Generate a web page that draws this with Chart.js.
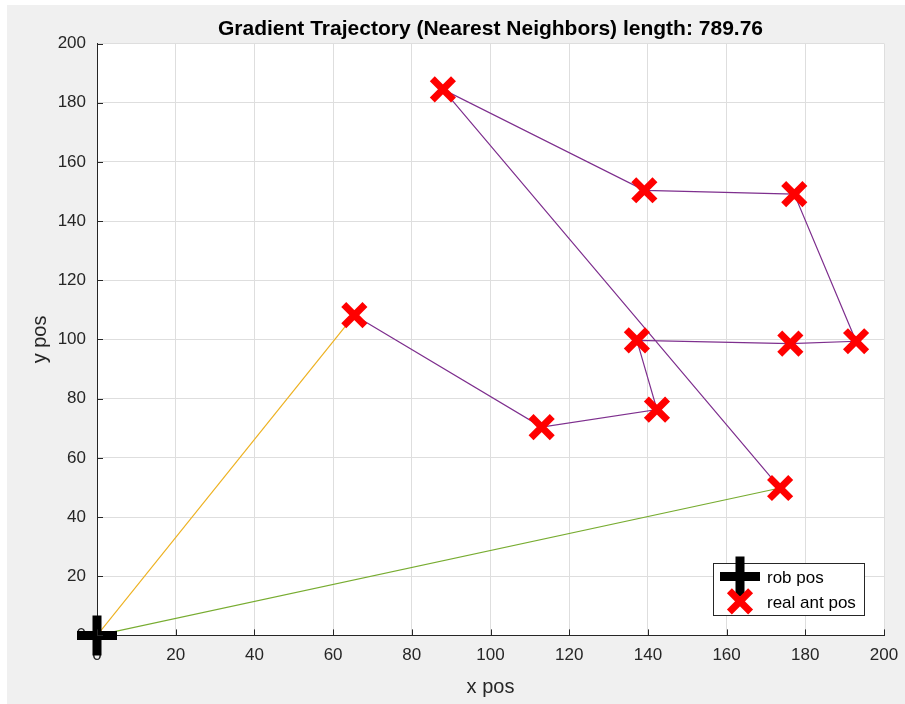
<!DOCTYPE html>
<html>
<head>
<meta charset="utf-8">
<script src="https://cdn.jsdelivr.net/npm/chart.js@4/dist/chart.umd.min.js"></script>
<style>
  html, body { margin: 0; padding: 0; background: #ffffff; }
  #wrap { width: 905px; height: 704px; }
</style>
</head>
<body>
<div id="wrap"><canvas id="grafico" width="905" height="704"></canvas></div>
<script>
// Posición del robot y de las antenas
const robX = [0];
const robY = [0];
const antX = [65.4, 113.0, 142.3, 137.2, 176.2, 192.9, 177.2, 139.1, 87.9, 173.6];
const antY = [108.2, 70.4, 76.3, 99.7, 98.6, 99.4, 149.1, 150.4, 184.5, 49.8];

// Trayectoria: ida (naranja), recorrido entre antenas (morado), vuelta (verde)
const idaX = [0, 65.4];
const idaY = [0, 108.2];
const recorridoX = [65.4, 113.0, 142.3, 137.2, 176.2, 192.9, 177.2, 139.1, 87.9, 173.6];
const recorridoY = [108.2, 70.4, 76.3, 99.7, 98.6, 99.4, 149.1, 150.4, 184.5, 49.8];
const vueltaX = [173.6, 0];
const vueltaY = [49.8, 0];

const ticksEje = [0, 20, 40, 60, 80, 100, 120, 140, 160, 180, 200];
const titulo = 'Gradient Trajectory (Nearest Neighbors) length: 789.76';

const FUENTE = "'Liberation Sans', Arial, Helvetica, sans-serif";
const GRIS_EJE = '#262626';

const puntos = (xs, ys) => xs.map((x, i) => ({ x, y: ys[i] }));

// Fondo gris de la figura y área de ejes blanca
const fondoFigura = {
    id: 'fondoFigura',
    beforeDraw(chart) {
        const { ctx, chartArea: a } = chart;
        ctx.save();
        ctx.fillStyle = '#f0f0f0';
        ctx.fillRect(7, 5, chart.width - 7, chart.height - 5);
        ctx.fillStyle = '#ffffff';
        ctx.fillRect(a.left, a.top, a.right - a.left, a.bottom - a.top);
        ctx.restore();
    },
};

// Ticks hacia dentro, como en MATLAB
const ticksInternos = {
    id: 'ticksInternos',
    afterDatasetsDraw(chart) {
        const { ctx, chartArea: a, scales } = chart;
        ctx.save();
        ctx.strokeStyle = GRIS_EJE;
        ctx.lineWidth = 1;
        ctx.beginPath();
        ticksEje.forEach(v => {
            const px = Math.round(scales.x.getPixelForValue(v)) + 0.5;
            ctx.moveTo(px, a.bottom);
            ctx.lineTo(px, a.bottom - 6);
            const py = Math.round(scales.y.getPixelForValue(v)) + 0.5;
            ctx.moveTo(a.left, py);
            ctx.lineTo(a.left + 6, py);
        });
        ctx.stroke();
        ctx.restore();
    },
};

// Leyenda dentro del área (abajo a la derecha)
const leyendaInterna = {
    id: 'leyendaInterna',
    afterDraw(chart) {
        const { ctx, chartArea: a } = chart;
        const ds = chart.data.datasets;
        const derecha = a.right - 20, abajo = a.bottom - 20;
        const ancho = 151, alto = 52;
        const x0 = derecha - ancho, y0 = abajo - alto;
        ctx.save();
        ctx.fillStyle = '#ffffff';
        ctx.fillRect(x0, y0, ancho, alto);
        ctx.strokeStyle = '#262626';
        ctx.lineWidth = 1;
        ctx.strokeRect(Math.round(x0) + 0.5, Math.round(y0) + 0.5, ancho, alto);
        const filas = [
            { d: ds[0], y: y0 + 13 },
            { d: ds[1], y: y0 + 38 },
        ];
        filas.forEach(f => {
            ctx.strokeStyle = f.d.borderColor;
            ctx.fillStyle = f.d.backgroundColor;
            ctx.lineWidth = f.d.borderWidth;
            Chart.helpers.drawPoint(ctx, {
                pointStyle: f.d.pointStyle,
                radius: f.d.pointRadius,
                borderWidth: f.d.borderWidth,
                rotation: 0,
            }, x0 + 27, f.y);
            ctx.fillStyle = '#000000';
            ctx.font = `17px ${FUENTE}`;
            ctx.textBaseline = 'middle';
            ctx.fillText(f.d.label, x0 + 54, f.y + 2);
        });
        ctx.restore();
    },
};

new Chart(document.getElementById('grafico').getContext('2d'), {
    type: 'scatter',
    data: {
        datasets: [
            {
                label: 'rob pos',
                data: puntos(robX, robY),
                pointStyle: 'cross',
                pointRadius: 20,
                borderWidth: 9,
                borderColor: '#000000',
                backgroundColor: '#000000',
                clip: false,
            },
            {
                label: 'real ant pos',
                data: puntos(antX, antY),
                pointStyle: 'crossRot',
                pointRadius: 15,
                borderWidth: 7,
                borderColor: '#ff0000',
                backgroundColor: '#ff0000',
                clip: false,
            },
            {
                label: 'ida',
                data: puntos(idaX, idaY),
                showLine: true,
                borderColor: '#EDB120',
                borderWidth: 1.2,
                pointRadius: 0,
            },
            {
                label: 'recorrido',
                data: puntos(recorridoX, recorridoY),
                showLine: true,
                borderColor: '#7E2F8E',
                borderWidth: 1.2,
                pointRadius: 0,
            },
            {
                label: 'vuelta',
                data: puntos(vueltaX, vueltaY),
                showLine: true,
                borderColor: '#77AC30',
                borderWidth: 1.2,
                pointRadius: 0,
            },
        ],
    },
    options: {
        responsive: false,
        animation: false,
        events: [],
        layout: { autoPadding: false, padding: { left: 0, right: 21, top: 0, bottom: 0 } },
        plugins: {
            legend: { display: false },
            tooltip: { enabled: false },
            title: {
                display: true,
                text: titulo,
                fullSize: false,
                color: '#000000',
                font: { family: FUENTE, size: 21, weight: 'bold', lineHeight: 1.2 },
                padding: { top: 17, bottom: 1.3 },
            },
        },
        scales: {
            x: {
                type: 'linear',
                min: 0,
                max: 200,
                afterFit: (s) => { s.height = 68.6; s.paddingLeft = 0; s.paddingRight = 0; },
                afterBuildTicks: (s) => { s.ticks = ticksEje.map(v => ({ value: v })); },
                border: { display: true, color: GRIS_EJE, width: 1 },
                grid: { color: '#dedede', lineWidth: 1, drawTicks: false },
                ticks: { color: GRIS_EJE, padding: 10, font: { family: FUENTE, size: 17 }, maxRotation: 0 },
                title: {
                    display: true,
                    text: 'x pos',
                    color: GRIS_EJE,
                    font: { family: FUENTE, size: 20, lineHeight: 1.2 },
                    padding: { top: 0, bottom: 5 },
                },
            },
            y: {
                type: 'linear',
                min: 0,
                max: 200,
                afterFit: (s) => { s.width = 97; s.paddingTop = 0; s.paddingBottom = 0; },
                afterBuildTicks: (s) => { s.ticks = ticksEje.map(v => ({ value: v })); },
                border: { display: true, color: GRIS_EJE, width: 1 },
                grid: { color: '#dedede', lineWidth: 1, drawTicks: false },
                ticks: { color: GRIS_EJE, padding: 11, font: { family: FUENTE, size: 17 } },
                title: {
                    display: true,
                    text: 'y pos',
                    color: GRIS_EJE,
                    font: { family: FUENTE, size: 20, lineHeight: 1.2 },
                    padding: { top: 28, bottom: 0 },
                },
            },
        },
    },
    plugins: [fondoFigura, ticksInternos, leyendaInterna],
});
</script>
</body>
</html>
